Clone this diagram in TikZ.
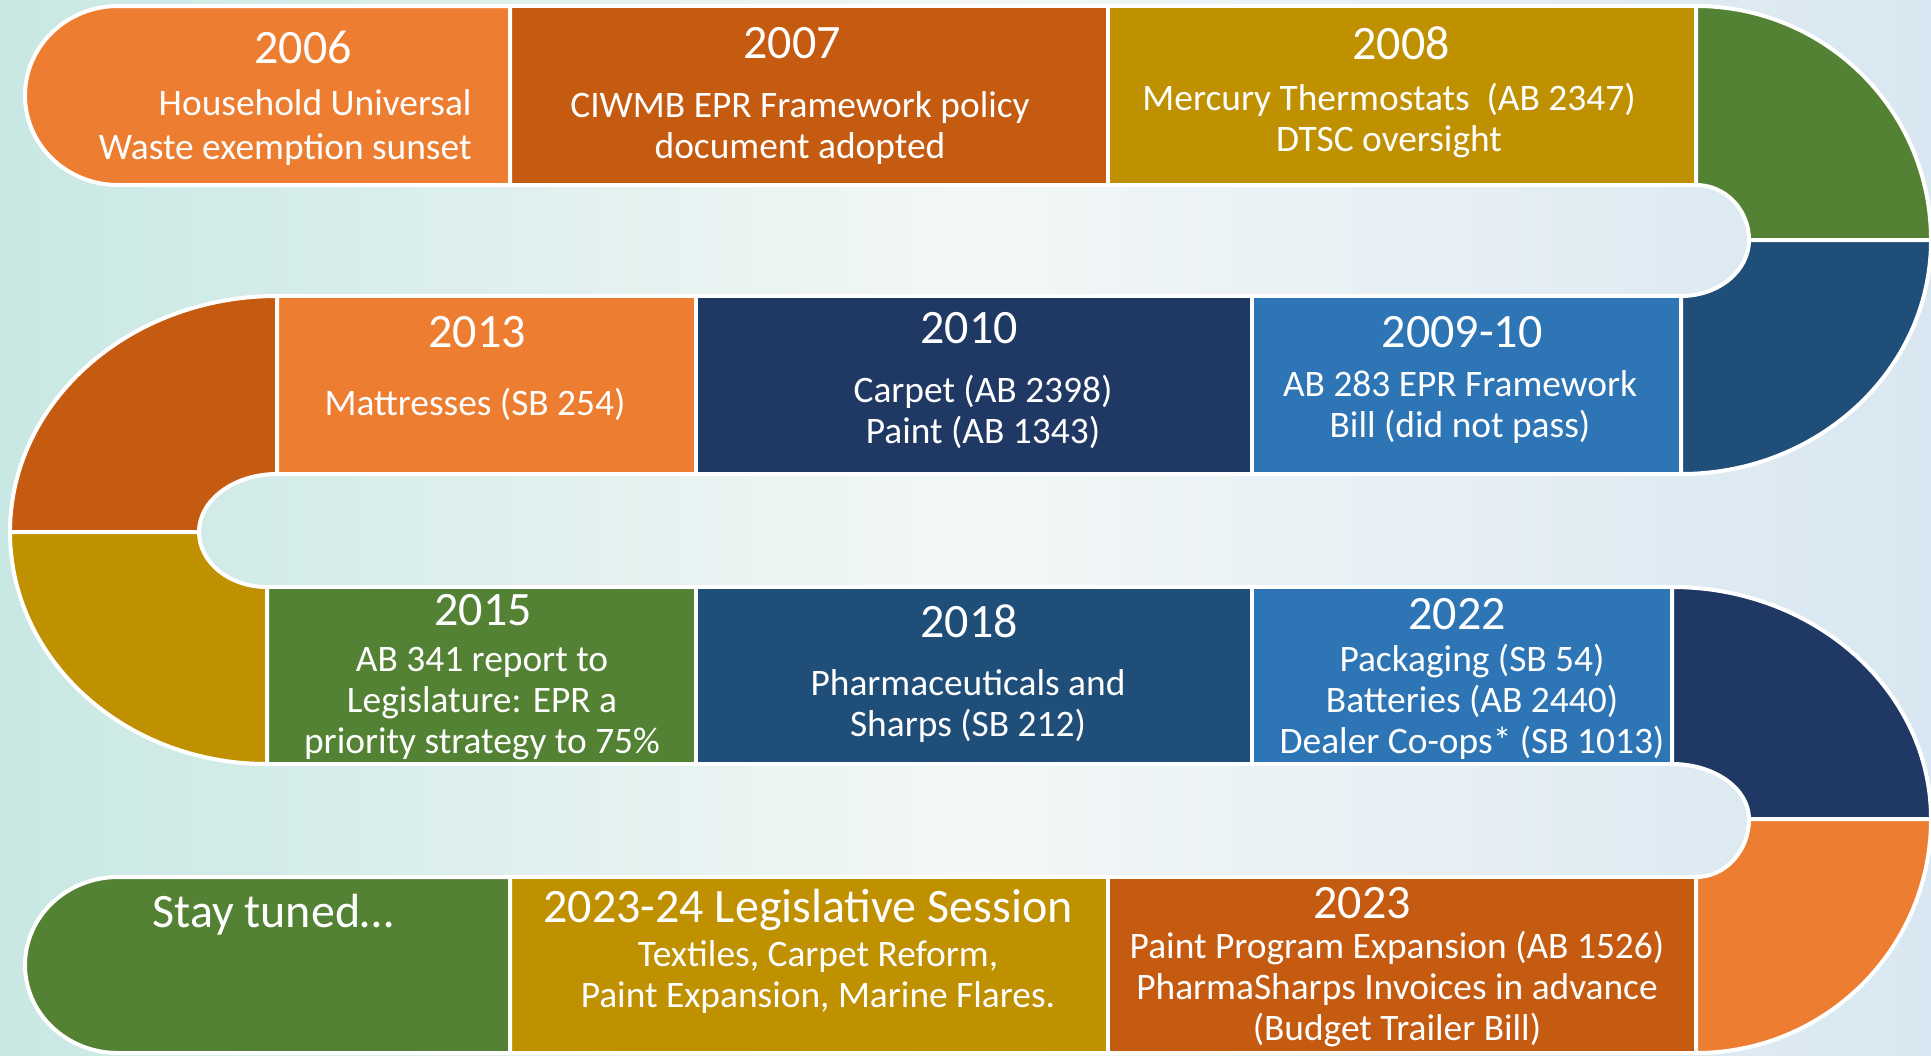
\documentclass[tikz,border=0pt]{standalone}
\usepackage{fontspec}
\setmainfont{Carlito}
\usepackage{tikz}
\usetikzlibrary{positioning}
\definecolor{EprOrange}{HTML}{ED7D31}
\definecolor{EprRust}{HTML}{C55A11}
\definecolor{EprGold}{HTML}{BF9000}
\definecolor{EprGreen}{HTML}{548235}
\definecolor{EprNavy}{HTML}{203864}
\definecolor{EprSteel}{HTML}{1F4E79}
\definecolor{EprBlue}{HTML}{2E75B6}
\definecolor{bgTeal}{HTML}{C8E8E3}
\definecolor{bgMid}{HTML}{F3F7F7}
\definecolor{bgBlue}{HTML}{D8E7F1}

\begin{document}
\begin{tikzpicture}[x=0.5pt, y=-0.5pt,
    seg/.style={draw=white, line width=2pt},
    yr/.style={text=white, inner sep=0pt, font=\fontsize{24}{28}\selectfont},
    txt/.style={text=white, inner sep=0pt, align=center, font=\fontsize{18.7}{20.5}\selectfont}]
  \useasboundingbox (0,0) rectangle (1931,1055);
  \shade[left color=bgTeal, right color=bgMid] (0,0) rectangle (966,1055);
  \shade[left color=bgMid, right color=bgBlue] (965,0) rectangle (1931,1055);
  % straight cells
  \foreach \xa/\ya/\xb/\yb/\c in {510/6/1108/185/EprRust, 1108/6/1696/185/EprGold,
      277/296/696/474/EprOrange, 696/296/1252/474/EprNavy, 1252/296/1681/474/EprBlue,
      267/587/696/764/EprGreen, 696/587/1252/764/EprSteel, 1252/587/1672/764/EprBlue,
      510/877/1108/1053/EprGold, 1108/877/1696/1053/EprRust}
    \filldraw[seg, fill=\c] (\xa,\ya) rectangle (\xb,\yb);
  % rounded ends
  \filldraw[seg, fill=EprOrange] (510,6) -- (118,6) arc[start angle=270, end angle=90, x radius=93, y radius=89.5] -- (510,185) -- cycle;
  \filldraw[seg, fill=EprGreen] (510,877) -- (118,877) arc[start angle=270, end angle=90, x radius=93, y radius=88] -- (510,1053) -- cycle;
  % turns
  \filldraw[seg, fill=EprGreen] (1696,6) arc[start angle=-90, end angle=0, x radius=235, y radius=234] -- (1749,240)
    arc[start angle=0, end angle=-90, x radius=53, y radius=55] -- cycle;
  \filldraw[seg, fill=EprSteel] (1931,240) arc[start angle=0, end angle=90, x radius=250, y radius=234] -- (1681,296)
    arc[start angle=90, end angle=0, x radius=68, y radius=56] -- cycle;
  \filldraw[seg, fill=EprRust] (277,296) arc[start angle=270, end angle=180, x radius=267, y radius=236] -- (199,532)
    arc[start angle=180, end angle=270, x radius=78, y radius=58] -- cycle;
  \filldraw[seg, fill=EprGold] (10,532) arc[start angle=180, end angle=90, x radius=257, y radius=232] -- (267,587)
    arc[start angle=90, end angle=180, x radius=68, y radius=55] -- cycle;
  \filldraw[seg, fill=EprNavy] (1672,587) arc[start angle=-90, end angle=0, x radius=259, y radius=232] -- (1749,819)
    arc[start angle=0, end angle=-90, x radius=77, y radius=55] -- cycle;
  \filldraw[seg, fill=EprOrange] (1931,819) arc[start angle=0, end angle=90, x radius=235, y radius=234] -- (1696,877)
    arc[start angle=90, end angle=0, x radius=53, y radius=58] -- cycle;
  % labels
  \node[yr] (y2006) at (303,47) {2006};
  \node[txt, align=right, anchor=east, font=\fontsize{18.7}{22}\selectfont] (t2006) at (472,128) {Household Universal\\Waste exemption sunset};
  \node[yr] (y2007) at (792,43) {2007};
  \node[txt] (t2007) at (800,128) {CIWMB EPR Framework policy\\document adopted};
  \node[yr] (y2008) at (1401,43) {2008};
  \node[txt] (t2008) at (1389,121) {Mercury Thermostats\ \ (AB 2347)\\DTSC oversight};
  \node[yr] (y2013) at (477,332) {2013};
  \node[txt] (t2013) at (475,404) {Mattresses (SB 254)};
  \node[yr] (y2010) at (969,328) {2010};
  \node[txt] (t2010) at (983,412) {Carpet (AB 2398)\\Paint (AB 1343)};
  \node[yr] (y2009) at (1462,332) {2009-10};
  \node[txt] (t2009) at (1460,407) {AB 283 EPR Framework\\Bill (did not pass)};
  \node[yr] (y2015) at (483,610) {2015};
  \node[txt] (t2015) at (482,704) {AB 341 report to\\Legislature: EPR a\\priority strategy to 75\%};
  \node[yr] (y2018) at (969,621) {2018};
  \node[txt] (t2018) at (968,706) {Pharmaceuticals and\\Sharps (SB 212)};
  \node[yr] (y2022) at (1457,614) {2022};
  \node[txt] (t2022) at (1472,702) {Packaging (SB 54)\\Batteries (AB 2440)\\Dealer Co-ops* (SB 1013)};
  \node[yr] (stay) at (273,915) {Stay tuned…};
  \node[yr] (y2324) at (808,910) {2023-24 Legislative Session};
  \node[txt] (t2324) at (818,977) {Textiles, Carpet Reform,\\Paint Expansion, Marine Flares.};
  \node[yr] (y2023) at (1362,903) {2023};
  \node[txt] (t2023) at (1397,989) {Paint Program Expansion (AB 1526)\\PharmaSharps Invoices in advance\\(Budget Trailer Bill)};
\end{tikzpicture}
\end{document}
